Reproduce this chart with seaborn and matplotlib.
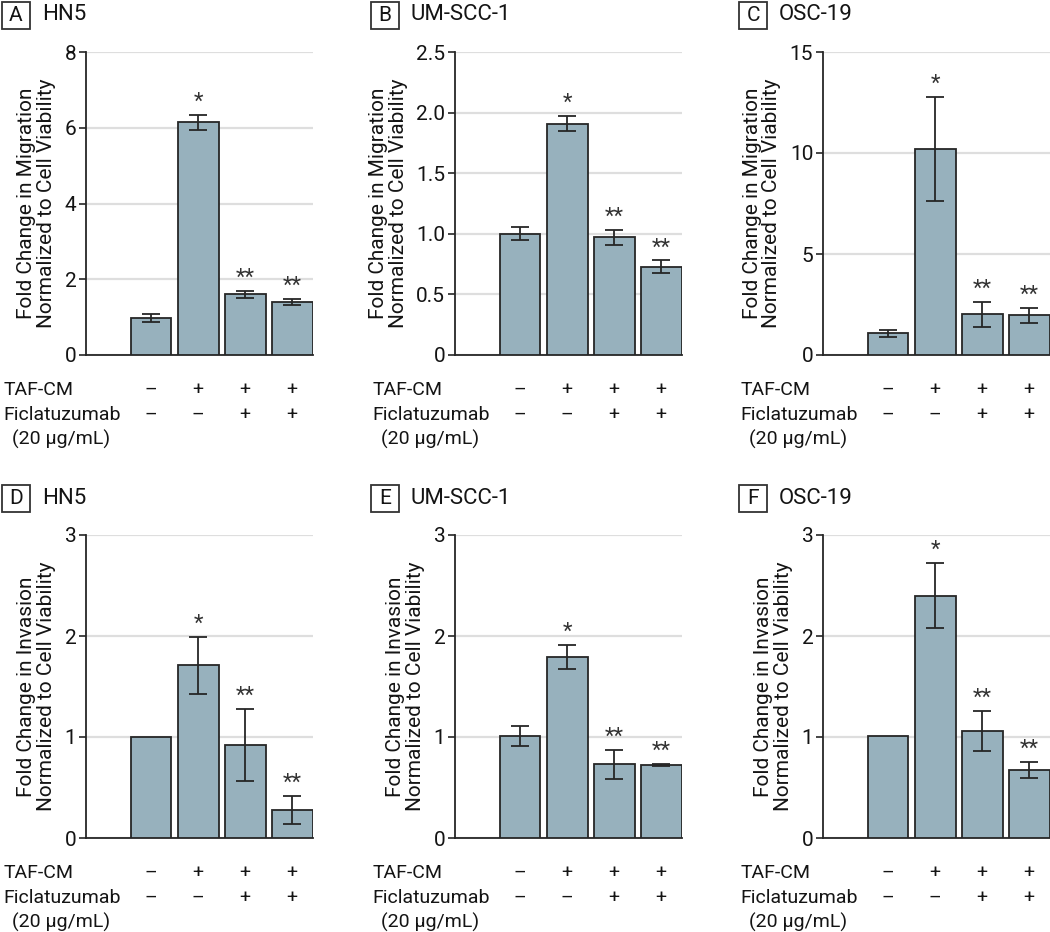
import numpy as np
import pandas as pd
import matplotlib
matplotlib.use("Agg")
import matplotlib.pyplot as plt
import matplotlib.transforms as mtransforms
from matplotlib.patches import Rectangle
import seaborn as sns

sns.set_style("white")
plt.rcParams['font.family'] = ['Roboto', 'DejaVu Sans']

# 处理条件
conditions = ['ctrl', 'taf', 'taf_fic', 'taf_fic2']
taf_signs = ['–', '+', '+', '+']
fic_signs = ['–', '–', '+', '+']

panel_letters = ['A', 'B', 'C', 'D', 'E', 'F']
cell_lines = ['HN5', 'UM-SCC-1', 'OSC-19', 'HN5', 'UM-SCC-1', 'OSC-19']

# 迁移 (上排)
mig_hn5 = [0.98, 6.14, 1.60, 1.40]
mig_hn5_err = [0.10, 0.19, 0.09, 0.08]
mig_um = [1.00, 1.91, 0.97, 0.73]
mig_um_err = [0.055, 0.06, 0.065, 0.05]
mig_osc = [1.07, 10.18, 2.01, 1.96]
mig_osc_err = [0.16, 2.58, 0.60, 0.36]

# 侵袭 (下排)
inv_hn5 = [1.00, 1.71, 0.92, 0.28]
inv_hn5_err = [0.0, 0.28, 0.36, 0.14]
inv_um = [1.01, 1.79, 0.73, 0.72]
inv_um_err = [0.095, 0.12, 0.145, 0.01]
inv_osc = [1.01, 2.40, 1.06, 0.67]
inv_osc_err = [0.0, 0.32, 0.20, 0.08]

stars = ['', '*', '**', '**']

y_ticks = [
    [0, 2, 4, 6, 8],
    [0, 0.5, 1.0, 1.5, 2.0, 2.5],
    [0, 5, 10, 15],
    [0, 1, 2, 3],
    [0, 1, 2, 3],
    [0, 1, 2, 3],
]
y_ticklabels = [
    ['0', '2', '4', '6', '8'],
    ['0', '0.5', '1.0', '1.5', '2.0', '2.5'],
    ['0', '5', '10', '15'],
    ['0', '1', '2', '3'],
    ['0', '1', '2', '3'],
    ['0', '1', '2', '3'],
]
ylabels = ['Fold Change in Migration\nNormalized to Cell Viability'] * 3 + \
          ['Fold Change in Invasion\nNormalized to Cell Viability'] * 3

values = [mig_hn5, mig_um, mig_osc, inv_hn5, inv_um, inv_osc]
errors = [mig_hn5_err, mig_um_err, mig_osc_err, inv_hn5_err, inv_um_err, inv_osc_err]

BAR_COLOR = '#97b1bd'
EDGE = '#262626'
TEXT = '#141414'
W, H = 1050, 932
FS = 14

fig = plt.figure(figsize=(W / 100, H / 100), dpi=100)

# 像素布局
lefts = [86, 455, 823]
tops = [52, 535]
ax_w, ax_h = 227, 303


def fx(px):
    return px / W


def fy(py):
    return 1 - py / H


for i in range(6):
    row, col = divmod(i, 3)
    l, t = lefts[col], tops[row]
    ax = fig.add_axes([fx(l), fy(t + ax_h), ax_w / W, ax_h / H])

    df = pd.DataFrame({'cond': conditions, 'val': values[i], 'err': errors[i]})
    sns.barplot(data=df, x='cond', y='val', order=conditions, color=BAR_COLOR,
                saturation=1, width=0.87, edgecolor=EDGE, linewidth=1.3,
                errorbar=None, ax=ax, zorder=3)
    xs = np.arange(len(conditions))
    err = np.array(errors[i])
    mask = err > 0
    ax.errorbar(xs[mask], np.array(values[i])[mask], yerr=err[mask], fmt='none',
                ecolor=EDGE, elinewidth=1.3, capsize=6.5, capthick=1.3, zorder=4)

    ymax = y_ticks[i][-1]
    ax.set_xlim(-1.38, 3.44)
    ax.set_ylim(0, ymax)
    ax.set_yticks(y_ticks[i])
    ax.set_yticklabels(y_ticklabels[i], fontsize=FS + 1, color=TEXT)
    ax.set_xticks([])
    ax.set_xlabel('')
    ax.set_ylabel(ylabels[i], fontsize=FS + 1, color=TEXT, linespacing=1.05, labelpad=6)
    ax.tick_params(axis='y', length=5, width=1.2, color=EDGE, pad=2, direction='out', left=True)
    ax.yaxis.grid(True, color='#dedede', linewidth=1.6, zorder=0)
    ax.set_axisbelow(True)
    for s in ['top', 'right']:
        ax.spines[s].set_visible(False)
    for s in ['left', 'bottom']:
        ax.spines[s].set_color(EDGE)
        ax.spines[s].set_linewidth(1.3)

    # 显著性星号
    for x, v, e, s in zip(xs, values[i], errors[i], stars):
        if s:
            ax.annotate(s, (x, v + e), xytext=(0, 1.5), textcoords='offset points',
                        ha='center', va='bottom', fontsize=16, color='#333333')

    # 下方条件表
    tr = mtransforms.blended_transform_factory(ax.transData, ax.transAxes)
    for x, a, b in zip(xs, taf_signs, fic_signs):
        ax.text(x, -0.116, a, transform=tr, ha='center', va='center', fontsize=FS, color=TEXT)
        ax.text(x, -0.198, b, transform=tr, ha='center', va='center', fontsize=FS, color=TEXT)
    ax.text(-0.362, -0.116, 'TAF-CM', transform=ax.transAxes, ha='left', va='center',
            fontsize=FS, color=TEXT)
    ax.text(-0.362, -0.198, 'Ficlatuzumab', transform=ax.transAxes, ha='left', va='center',
            fontsize=FS, color=TEXT)
    ax.text(-0.325, -0.277, '(20 µg/mL)', transform=ax.transAxes, ha='left', va='center',
            fontsize=FS, color=TEXT)

    # 面板标题
    box = Rectangle((fx(l - 84), fy(t - 23)), 28 / W, 27 / H, transform=fig.transFigure,
                    fc='white', ec='#333333', lw=1.3)
    fig.patches.append(box)
    fig.text(fx(l - 70), fy(t - 36.5), panel_letters[i], ha='center', va='center',
             fontsize=15, color=TEXT)
    fig.text(fx(l - 44), fy(t - 37), cell_lines[i], ha='left', va='center', fontsize=16,
             color=TEXT)

fig.savefig('out.png', dpi=100)
